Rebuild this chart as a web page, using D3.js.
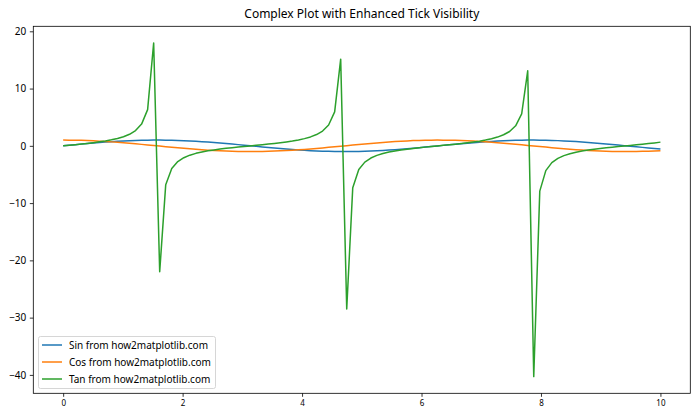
<!DOCTYPE html>
<html><head><meta charset="utf-8">
<script src="https://cdn.jsdelivr.net/npm/d3@7"></script>
<style>body{margin:0;background:#fff}svg{display:block}text{font-family:"Noto Sans","Open Sans",sans-serif}</style>
</head><body><svg id="c" width="700" height="420"></svg>
<script>
const xs = [0,0.1010,0.2020,0.3030,0.4040,0.5051,0.6061,0.7071,0.8081,0.9091,1.0101,1.1111,1.2121,1.3131,1.4141,1.5152,1.6162,1.7172,1.8182,1.9192,2.0202,2.1212,2.2222,2.3232,2.4242,2.5253,2.6263,2.7273,2.8283,2.9293,3.0303,3.1313,3.2323,3.3333,3.4343,3.5354,3.6364,3.7374,3.8384,3.9394,4.0404,4.1414,4.2424,4.3434,4.4444,4.5455,4.6465,4.7475,4.8485,4.9495,5.0505,5.1515,5.2525,5.3535,5.4545,5.5556,5.6566,5.7576,5.8586,5.9596,6.0606,6.1616,6.2626,6.3636,6.4646,6.5657,6.6667,6.7677,6.8687,6.9697,7.0707,7.1717,7.2727,7.3737,7.4747,7.5758,7.6768,7.7778,7.8788,7.9798,8.0808,8.1818,8.2828,8.3838,8.4848,8.5859,8.6869,8.7879,8.8889,8.9899,9.0909,9.1919,9.2929,9.3939,9.4949,9.5960,9.6970,9.7980,9.8990,10];
const sinV = [0,0.1008,0.2006,0.2984,0.3931,0.4839,0.5697,0.6496,0.7229,0.7890,0.8469,0.8961,0.9364,0.9670,0.9877,0.9985,0.9990,0.9893,0.9696,0.9399,0.9007,0.8523,0.7953,0.7300,0.6574,0.5781,0.4927,0.4026,0.3082,0.2107,0.1111,0.0103,-0.0906,-0.1906,-0.2886,-0.3837,-0.4750,-0.5611,-0.6418,-0.7159,-0.7826,-0.8414,-0.8916,-0.9327,-0.9643,-0.9861,-0.9978,-0.9994,-0.9908,-0.9720,-0.9434,-0.9051,-0.8577,-0.8015,-0.7372,-0.6650,-0.5864,-0.5017,-0.4120,-0.3180,-0.2208,-0.1213,-0.0206,0.0803,0.1804,0.2788,0.3742,0.4658,0.5526,0.6339,0.7086,0.7762,0.8357,0.8869,0.9289,0.9616,0.9843,0.9971,0.9997,0.9921,0.9744,0.9467,0.9095,0.8629,0.8076,0.7440,0.6728,0.5946,0.5106,0.4213,0.3277,0.2308,0.1315,0.0309,-0.0700,-0.1704,-0.2688,-0.3646,-0.4566,-0.5440];
const cosV = [1,0.9949,0.9797,0.9544,0.9195,0.8751,0.8219,0.7603,0.6909,0.6145,0.5318,0.4438,0.3511,0.2549,0.1561,0.0556,-0.0454,-0.1459,-0.2449,-0.3414,-0.4344,-0.5231,-0.6063,-0.6834,-0.7536,-0.8160,-0.8702,-0.9154,-0.9513,-0.9775,-0.9938,-0.9999,-0.9959,-0.9817,-0.9575,-0.9235,-0.8800,-0.8278,-0.7669,-0.6982,-0.6225,-0.5404,-0.4529,-0.3607,-0.2648,-0.1661,-0.0659,0.0351,0.1357,0.2349,0.3317,0.4251,0.5142,0.5981,0.6757,0.7469,0.8100,0.8650,0.9112,0.9481,0.9753,0.9926,0.9998,0.9968,0.9836,0.9604,0.9273,0.8849,0.8335,0.7735,0.7056,0.6305,0.5491,0.4620,0.3703,0.2746,0.1763,0.0761,-0.0248,-0.1255,-0.2249,-0.3220,-0.4158,-0.5054,-0.5898,-0.6682,-0.7398,-0.8040,-0.8598,-0.9069,-0.9448,-0.9730,-0.9913,-0.9995,-0.9975,-0.9854,-0.9632,-0.9312,-0.8897,-0.8391];
const tanV = [0,0.1013,0.2048,0.3127,0.4275,0.5530,0.6932,0.8544,1.0463,1.2840,1.5925,2.019,2.667,3.794,6.327,17.96,-22.0,-6.78,-3.959,-2.753,-2.073,-1.629,-1.312,-1.068,-0.872,-0.708,-0.566,-0.440,-0.324,-0.216,-0.112,-0.0103,0.0911,0.1941,0.3014,0.4157,0.5398,0.6778,0.8369,1.025,1.257,1.557,1.969,2.586,3.642,5.937,15.14,-28.48,-7.30,-4.14,-2.845,-2.13,-1.669,-1.339,-1.088,-0.890,-0.723,-0.581,-0.453,-0.336,-0.226,-0.1222,-0.0206,0.0806,0.1835,0.2903,0.4033,0.5265,0.6630,0.8195,1.0042,1.231,1.5275,1.9326,2.507,3.50,5.58,13.1,-40.3,-7.91,-4.33,-2.94,-2.19,-1.71,-1.369,-1.114,-0.9078,-0.7393,-0.5930,-0.4646,-0.3469,-0.2372,-0.1327,-0.0309,0.0702,0.1729,0.2792,0.3914,0.5136,0.6484];
const seriesNames = ["Sin from how2matplotlib.com","Cos from how2matplotlib.com","Tan from how2matplotlib.com"];
const colors = ["#1f77b4","#ff7f0e","#2ca02c"];
const xTicks = [0,2,4,6,8,10];
const yTicks = [20,10,0,-10,-20,-30,-40];
const title = "Complex Plot with Enhanced Tick Visibility";

const svg = d3.select("#c");
const L=33.3,R=690.3,T=26.3,B=393.3;
const allY = sinV.concat(cosV,tanV);
const ymin=d3.min(allY), ymax=d3.max(allY), yp=(ymax-ymin)*0.05;
const x = d3.scaleLinear().domain([-0.5,10.5]).range([L,R]);
const y = d3.scaleLinear().domain([ymin-yp,ymax+yp]).range([B,T]);

const series=[sinV,cosV,tanV];
const line = d3.line().x((d,i)=>x(xs[i])).y(d=>y(d));
series.forEach((s,k)=>{
  svg.append("path").attr("d",line(s)).attr("fill","none").attr("stroke",colors[k]).attr("stroke-width",1.5).attr("stroke-linejoin","round");
});

const xa = svg.append("g").attr("transform",`translate(0,${B})`).call(d3.axisBottom(x).tickValues(xTicks).tickSize(3.5).tickPadding(3.5).tickFormat(d3.format("d")));
xa.select(".domain").remove();
xa.selectAll("text").attr("font-size",8).attr("fill","#000");
xa.selectAll("line").attr("stroke","#000").attr("stroke-width",0.8);
const ya = svg.append("g").attr("transform",`translate(${L},0)`).call(d3.axisLeft(y).tickValues(yTicks).tickSize(3.5).tickPadding(3.5).tickFormat(d3.format("d")));
ya.select(".domain").remove();
ya.selectAll("text").attr("font-size",10).attr("fill","#000");
ya.selectAll("line").attr("stroke","#000").attr("stroke-width",0.8);

svg.append("rect").attr("x",L).attr("y",T).attr("width",R-L).attr("height",B-T).attr("fill","none").attr("stroke","#000").attr("stroke-width",0.8);

svg.append("text").attr("x",(L+R)/2).attr("y",T-8).attr("text-anchor","middle").attr("font-size",12).attr("fill","#000").text(title);

const lg = svg.append("g");
lg.append("rect").attr("x",38.5).attr("y",336.5).attr("width",177).attr("height",52).attr("rx",2).attr("fill","#fff").attr("fill-opacity",0.8).attr("stroke","#ccc").attr("stroke-width",0.8);
seriesNames.forEach((n,k)=>{
  const yy = 345+k*17;
  lg.append("line").attr("x1",42).attr("x2",62).attr("y1",yy).attr("y2",yy).attr("stroke",colors[k]).attr("stroke-width",1.5);
  lg.append("text").attr("x",69).attr("y",yy).attr("dy","0.35em").attr("font-size",10).attr("fill","#000").text(n);
});
</script></body></html>
